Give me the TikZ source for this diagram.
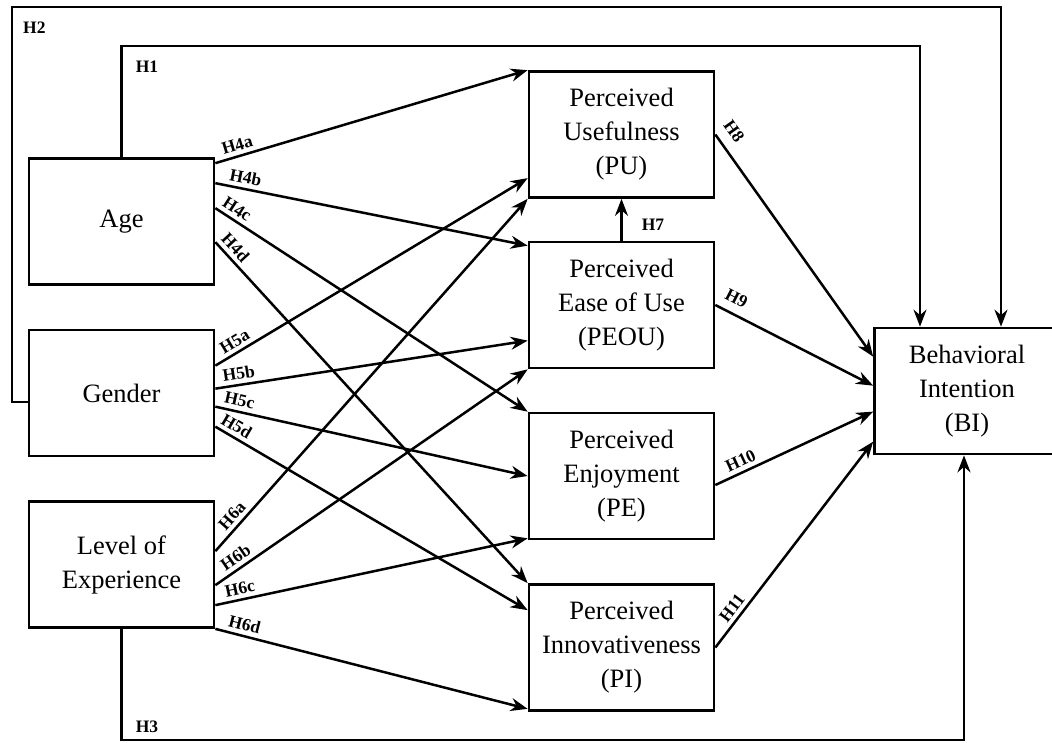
\documentclass[tikz,border=0pt]{standalone}
\usepackage{fontspec}
\setmainfont{Liberation Serif}
\usetikzlibrary{arrows.meta, calc}

\begin{document}
\begin{tikzpicture}[
  x=1pt, y=-1pt,
  blocco/.style={draw=black, line width=2.7pt, fill=white, align=center,
                 minimum width=185pt, minimum height=126pt, inner sep=2pt,
                 font=\fontsize{26.5}{34}\selectfont},
  freccia/.style={draw=black, line width=2.5pt, -{Stealth[length=17pt, width=13pt]}},
  etichetta/.style={font=\bfseries\fontsize{17.5}{17.5}\selectfont, inner sep=3pt}
]

% Cornice fissata sulle misure dell'originale: il riquadro BI esce dal
% bordo destro, quindi si ritaglia tutto sul formato della figura.
\useasboundingbox (0,0) rectangle (1052,742);
\clip (0,0) rectangle (1052,742);

% ---- blocchi -------------------------------------------------------
\node[blocco] (eta)        at (121.5,221.5) {Age};
\node[blocco] (genere)     at (121.5,393)   {Gender};
\node[blocco] (esperienza) at (121.5,564.5) {Level of\\Experience};

\node[blocco] (pu)   at (621.5,134.5) {Perceived\\Usefulness\\(PU)};
\node[blocco] (peou) at (621.5,305)   {Perceived\\Ease of Use\\(PEOU)};
\node[blocco] (pe)   at (621.5,476)   {Perceived\\Enjoyment\\(PE)};
\node[blocco] (pin)  at (621.5,647.5) {Perceived\\Innovativeness\\(PI)};

\node[blocco] (bi) at (967,391) {Behavioral\\Intention\\(BI)};

% punti d'arrivo dei percorsi esterni su BI
\coordinate (h1in) at ([xshift=-47pt]bi.north);
\coordinate (h2in) at ([xshift=34pt]bi.north);
\coordinate (h3in) at ([xshift=-3pt]bi.south);

% ---- percorsi esterni H1, H2, H3 -----------------------------------
\draw[freccia] (eta.north) |- node[etichetta, pos=0.5, anchor=north west, shift={(10pt,-11pt)}] {H1}
  (h1in |- 0,46) -- (h1in);
\draw[freccia] ([yshift=-9pt]genere.west) -| (12,7)
  -| node[etichetta, pos=0, anchor=north west, shift={(7pt,-11pt)}] {H2} (h2in);
\draw[freccia] (esperienza.south) |- node[etichetta, pos=0.5, anchor=south west, shift={(10pt,3pt)}] {H3}
  (h3in |- 0,740) -- (h3in);

% ---- Age -> costrutti ----------------------------------------------
\draw[freccia] ([yshift=-6pt]eta.north east) -- node[etichetta, sloped, pos=0.08, above=1pt] {H4a} (pu.north west);
\draw[freccia] ([yshift=-26pt]eta.north east) -- node[etichetta, sloped, pos=0.09, above=1pt] {H4b} ([yshift=-5pt]peou.north west);
\draw[freccia] ([yshift=-51pt]eta.north east) -- node[etichetta, sloped, pos=0.05, above=1pt] {H4c} (pe.north west);
\draw[freccia] ([yshift=-85pt]eta.north east) -- node[etichetta, sloped, pos=0.038, above=1pt] {H4d} (pin.north west);

% ---- Gender -> costrutti -------------------------------------------
\draw[freccia] ([yshift=-37pt]genere.north east) -- node[etichetta, sloped, pos=0.08, above=1pt] {H5a} ([yshift=-108pt]pu.north west);
\draw[freccia] ([yshift=-60pt]genere.north east) -- node[etichetta, sloped, pos=0.08, above=1pt] {H5b} ([yshift=-100pt]peou.north west);
\draw[freccia] ([yshift=-78pt]genere.north east) -- node[etichetta, sloped, pos=0.07, above=1pt] {H5c} (pe.west);
\draw[freccia] ([yshift=-98pt]genere.north east) -- node[etichetta, sloped, pos=0.05, above=1pt] {H5d} ([yshift=-27pt]pin.north west);

% ---- Level of Experience -> costrutti ------------------------------
\draw[freccia] ([yshift=-51pt]esperienza.north east) -- node[etichetta, sloped, pos=0.08, above=1pt] {H6a} (pu.south west);
\draw[freccia] ([yshift=-85pt]esperienza.north east) -- node[etichetta, sloped, pos=0.085, above=1pt] {H6b} (peou.south west);
\draw[freccia] ([yshift=-105pt]esperienza.north east) -- node[etichetta, sloped, pos=0.086, above=1pt] {H6c} ([yshift=2pt]pe.south west);
\draw[freccia] (esperienza.south east) -- node[etichetta, sloped, pos=0.085, above=1pt] {H6d} ([yshift=3pt]pin.south west);

% ---- PEOU -> PU ----------------------------------------------------
\draw[freccia] (peou.north) -- node[etichetta, midway, anchor=west, shift={(16pt,-5pt)}] {H7} (pu.south);

% ---- costrutti -> BI -----------------------------------------------
\draw[freccia] (pu.east) -- node[etichetta, sloped, pos=0.03, above=7pt] {H8} ([yshift=-30pt]bi.north west);
\draw[freccia] (peou.east) -- node[etichetta, sloped, pos=0.09, above=5pt] {H9} ([yshift=-59pt]bi.north west);
\draw[freccia] ([yshift=-9pt]pe.east) -- node[etichetta, sloped, pos=0.19, above=1pt] {H10} ([yshift=-85pt]bi.north west);
\draw[freccia] (pin.east) -- node[etichetta, sloped, pos=0.16, above=1pt] {H11} ([yshift=-115pt]bi.north west);

\end{tikzpicture}
\end{document}
